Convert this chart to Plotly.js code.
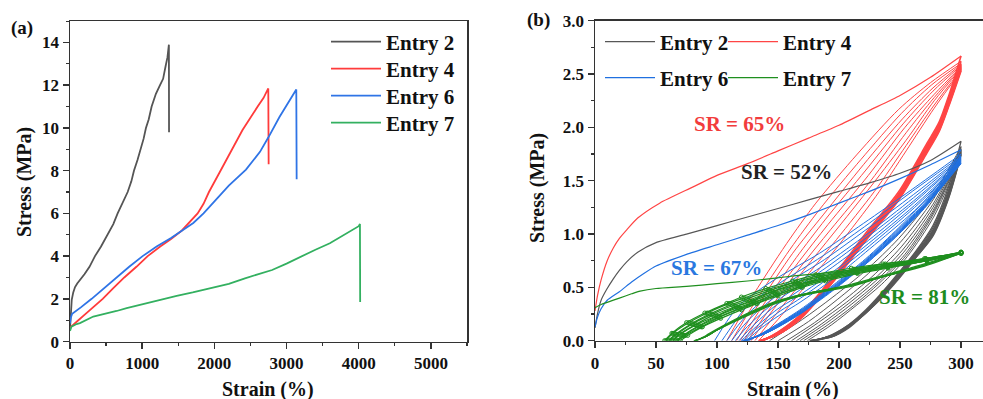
<!DOCTYPE html>
<html><head><meta charset="utf-8">
<script src="https://cdn.plot.ly/plotly-3.0.1.min.js"></script>
<style>html,body{margin:0;padding:0;background:#fff}#chart{width:983px;height:399px}</style>
</head><body><div id="chart"></div>
<script>
// ---------- Panel (a): tensile curves ----------
const entryNames = ['Entry 2', 'Entry 4', 'Entry 6', 'Entry 7'];
const a2x = [0,5,12,24,45,70,100,138,200,270,346,430,522,600,660,730,799,850,886,935,983,1020,1052,1090,1131,1190,1247,1290,1325,1350,1370,1372];
const a2y = [0.6,1.0,1.5,1.95,2.3,2.55,2.72,2.88,3.15,3.5,4.0,4.45,5.0,5.5,6.0,6.5,7.0,7.5,8.0,8.5,9.0,9.5,10.0,10.4,11.0,11.6,12.0,12.3,12.9,13.3,13.9,9.8];
const a4x = [0,30,100,200,300,453,600,752,920,1076,1250,1400,1550,1680,1768,1850,1925,2070,2230,2390,2600,2680,2747,2752];
const a4y = [0.65,0.75,0.95,1.25,1.55,2.0,2.5,3.0,3.5,4.0,4.45,4.8,5.2,5.65,6.0,6.45,7.0,7.9,8.9,9.9,11.0,11.4,11.85,8.3];
const a6x = [0,10,30,80,150,300,470,637,820,1006,1200,1400,1550,1708,1850,2032,2200,2438,2632,2747,2900,3135,3140];
const a6y = [0.85,1.1,1.3,1.42,1.6,2.0,2.5,3.0,3.5,4.0,4.45,4.85,5.2,5.55,6.0,6.7,7.3,8.05,8.88,9.55,10.5,11.8,7.6];
const a7x = [0,20,92,138,323,500,646,785,1000,1200,1478,1700,2000,2200,2424,2600,2800,3000,3200,3400,3600,3800,4000,4017,4020];
const a7y = [0.5,0.7,0.82,0.86,1.17,1.3,1.43,1.56,1.75,1.92,2.14,2.3,2.55,2.7,2.96,3.15,3.35,3.65,3.98,4.3,4.6,5.0,5.4,5.5,1.85];

// ---------- Panel (b): cyclic loading ----------
// first loading curves
const b2x = [0,2,5,9.5,15,20,26,35,50,75,100,125,150,175,200,225,250,275,300];
const b2y = [0.12,0.25,0.38,0.48,0.58,0.66,0.74,0.83,0.92,1.0,1.08,1.16,1.24,1.32,1.4,1.48,1.57,1.69,1.87];
const b4x = [0,2,5,10,15,20,26,35,53,80,100,125,150,175,200,225,250,275,300];
const b4y = [0.28,0.42,0.57,0.75,0.87,0.96,1.04,1.15,1.29,1.44,1.55,1.66,1.78,1.9,2.02,2.16,2.3,2.47,2.67];
const b6x = [0,2,5,10,20,30,40,50,75,100,125,150,175,200,225,250,275,300];
const b6y = [0.13,0.22,0.3,0.38,0.46,0.55,0.63,0.7,0.81,0.9,0.99,1.08,1.18,1.29,1.4,1.52,1.65,1.79];
const b7x = [0,5,10,20,30,37,50,75,100,125,146,165,184,200,225,250,275,300];
const b7y = [0.31,0.34,0.36,0.4,0.44,0.465,0.49,0.51,0.535,0.56,0.585,0.61,0.63,0.65,0.68,0.72,0.77,0.82];

// Entry 2 reloading / unloading branches
const e2LoadX = [
 [143,170,195,222,249,277,300],[150,175,199,224,250,277,300],[157,180,203,227,251,277,300],
 [161,183,206,229,252,277,300],[165,186,208,230,253,277,300],[168,189,210,232,254,277,300],
 [171,191,212,233,255,277,300],[174,194,214,235,256,278,300]];
const e2LoadY = [
 [0,0.2,0.41,0.66,0.96,1.36,1.82],[0,0.18,0.39,0.63,0.92,1.32,1.80],[0,0.17,0.37,0.6,0.88,1.28,1.79],
 [0,0.17,0.36,0.58,0.85,1.25,1.78],[0,0.16,0.35,0.56,0.83,1.22,1.77],[0,0.16,0.34,0.55,0.81,1.2,1.76],
 [0,0.15,0.33,0.54,0.8,1.18,1.75],[0,0.15,0.33,0.53,0.79,1.17,1.74]];
const e2UnX = [
 [300,290,277,263,249,235,222,208,195,182],[300,290,277,263,249,235,222,208,195,180],
 [300,290,277,263,249,235,222,208,195,179],[300,290,277,263,249,235,222,208,195,178],
 [300,290,277,263,249,235,222,208,195,178],[300,290,277,263,249,235,222,208,195,177],
 [300,290,277,263,249,235,222,208,195,177],[300,290,277,263,249,235,222,208,195,176],
 [300,290,277,263,249,235,222,208,195,176]];
const e2UnY = [
 [1.87,1.45,1.08,0.84,0.64,0.45,0.29,0.15,0.06,0],[1.82,1.42,1.06,0.83,0.63,0.44,0.28,0.15,0.06,0],
 [1.80,1.4,1.04,0.82,0.62,0.43,0.28,0.14,0.05,0],[1.79,1.39,1.03,0.81,0.61,0.43,0.27,0.14,0.05,0],
 [1.78,1.38,1.02,0.8,0.6,0.42,0.27,0.14,0.05,0],[1.77,1.37,1.01,0.8,0.6,0.42,0.27,0.13,0.05,0],
 [1.76,1.36,1.0,0.79,0.59,0.41,0.26,0.13,0.04,0],[1.75,1.35,0.99,0.78,0.59,0.41,0.26,0.13,0.04,0],
 [1.74,1.34,0.98,0.78,0.58,0.4,0.26,0.12,0.04,0]];

// Entry 4
const e4LoadX = [
 [108,127,157,181,215,249,275,300],[112,131,160,184,218,251,276,300],[116,134,162,187,220,252,277,300],
 [119,137,165,189,222,253,277,300],[122,139,167,191,224,254,278,300],[125,142,169,193,226,255,278,300],
 [128,144,171,195,227,255,278,300],[131,147,173,198,229,255,278,300],[134,150,175,200,230,255,278,300]];
const e4LoadY = [
 [0,0.38,0.91,1.29,1.75,2.17,2.42,2.62],[0,0.36,0.86,1.23,1.7,2.13,2.4,2.6],[0,0.34,0.82,1.18,1.65,2.08,2.37,2.59],
 [0,0.32,0.78,1.14,1.6,2.04,2.34,2.58],[0,0.3,0.74,1.09,1.55,2.0,2.31,2.57],[0,0.28,0.7,1.04,1.5,1.95,2.28,2.56],
 [0,0.26,0.66,1.0,1.46,1.88,2.25,2.55],[0,0.23,0.6,0.95,1.4,1.83,2.21,2.54],[0,0.2,0.55,0.9,1.35,1.78,2.18,2.53]];
const e4UnX = [
 [300,290,282,272,249,222,195,168,150,138],[300,290,282,272,249,222,195,168,150,137],
 [300,290,282,272,249,222,195,168,150,137],[300,290,282,272,249,222,195,168,150,136],
 [300,290,282,272,249,222,195,168,150,136],[300,290,282,272,249,222,195,168,150,136],
 [300,290,282,272,249,222,195,168,150,135],[300,290,282,272,249,222,195,168,150,135],
 [300,290,282,272,249,222,195,168,150,135],[300,290,282,272,249,222,195,168,150,134]];
const e4UnY = [
 [2.67,2.3,2.05,1.85,1.4,1.01,0.6,0.24,0.08,0],[2.62,2.28,2.03,1.83,1.38,0.99,0.59,0.23,0.08,0],
 [2.60,2.27,2.02,1.82,1.37,0.98,0.58,0.23,0.07,0],[2.59,2.26,2.01,1.81,1.36,0.97,0.58,0.22,0.07,0],
 [2.58,2.25,2.0,1.8,1.35,0.97,0.57,0.22,0.07,0],[2.57,2.24,2.0,1.8,1.35,0.96,0.57,0.22,0.07,0],
 [2.56,2.23,1.99,1.79,1.34,0.96,0.56,0.21,0.06,0],[2.55,2.22,1.98,1.78,1.33,0.95,0.56,0.21,0.06,0],
 [2.54,2.21,1.97,1.77,1.33,0.95,0.55,0.21,0.06,0],[2.53,2.2,1.96,1.76,1.32,0.94,0.55,0.2,0.06,0]];

// Entry 6
const e6LoadX = [
 [98,108,118,135,151,184,220,260,300],[104,113,122,138,154,186,221,260,300],[108,117,126,141,156,188,222,261,300],
 [112,120,129,143,158,189,223,261,300],[115,123,132,146,160,190,223,261,300],[118,126,135,148,162,191,224,261,300],
 [120,128,137,150,164,192,224,262,300],[122,130,139,152,166,193,225,262,300],[124,132,141,154,168,194,225,262,300]];
const e6LoadY = [
 [0,0.18,0.33,0.48,0.6,0.82,1.1,1.42,1.75],[0,0.15,0.29,0.44,0.56,0.79,1.07,1.4,1.73],[0,0.14,0.26,0.41,0.53,0.76,1.04,1.37,1.72],
 [0,0.12,0.23,0.37,0.49,0.72,1.0,1.34,1.71],[0,0.11,0.21,0.35,0.46,0.69,0.97,1.31,1.70],[0,0.1,0.2,0.33,0.43,0.66,0.94,1.29,1.69],
 [0,0.09,0.18,0.3,0.4,0.62,0.91,1.27,1.68],[0,0.09,0.17,0.28,0.38,0.6,0.89,1.25,1.67],[0,0.08,0.16,0.26,0.36,0.57,0.86,1.22,1.66]];
const e6UnX = [
 [300,285,270,249,222,195,168,140,126],[300,285,270,249,222,195,168,140,125],
 [300,285,270,249,222,195,168,140,124],[300,285,270,249,222,195,168,140,124],
 [300,285,270,249,222,195,168,140,123],[300,285,270,249,222,195,168,140,123],
 [300,285,270,249,222,195,168,140,122],[300,285,270,249,222,195,168,140,122],
 [300,285,270,249,222,195,168,140,121],[300,285,270,249,222,195,168,140,120]];
const e6UnY = [
 [1.79,1.52,1.31,1.06,0.77,0.52,0.29,0.09,0],[1.75,1.5,1.29,1.05,0.76,0.51,0.28,0.09,0],
 [1.73,1.49,1.28,1.04,0.75,0.5,0.28,0.08,0],[1.72,1.48,1.27,1.03,0.75,0.5,0.27,0.08,0],
 [1.71,1.47,1.27,1.02,0.74,0.49,0.27,0.08,0],[1.70,1.47,1.26,1.02,0.74,0.49,0.26,0.08,0],
 [1.69,1.46,1.26,1.01,0.73,0.48,0.26,0.07,0],[1.68,1.46,1.25,1.01,0.73,0.48,0.26,0.07,0],
 [1.67,1.45,1.25,1.0,0.72,0.48,0.25,0.07,0],[1.66,1.45,1.24,1.0,0.72,0.47,0.25,0.07,0]];

// Entry 7
const e7LoadX = [
 [57,63,75,90,108,120,140,162,181,210,236,270,300],[58,64,77,92,110,122,142,164,183,212,238,271,300],
 [60,66,79,94,112,124,143,165,184,213,238,271,300],[61,67,80,96,113,126,145,166,185,213,239,271,300],
 [63,69,82,97,115,127,146,167,186,214,239,272,300],[64,70,83,99,116,129,147,168,187,214,239,272,300],
 [66,72,85,100,117,130,148,168,187,214,240,272,300],[67,73,86,101,118,131,149,169,188,215,240,272,300],
 [68,74,87,102,119,132,149,169,188,215,240,272,300],[70,76,88,103,120,133,150,170,189,215,240,272,300]];
const e7LoadY = [
 [0,0.07,0.17,0.26,0.35,0.41,0.49,0.56,0.62,0.68,0.72,0.77,0.83],[0,0.07,0.17,0.26,0.35,0.4,0.48,0.55,0.61,0.67,0.72,0.77,0.83],
 [0,0.06,0.16,0.25,0.34,0.39,0.47,0.55,0.6,0.67,0.71,0.77,0.83],[0,0.06,0.16,0.25,0.33,0.38,0.46,0.54,0.6,0.66,0.71,0.76,0.83],
 [0,0.06,0.15,0.24,0.32,0.37,0.46,0.53,0.59,0.66,0.7,0.76,0.82],[0,0.06,0.15,0.23,0.32,0.37,0.45,0.53,0.58,0.65,0.7,0.76,0.82],
 [0,0.05,0.14,0.23,0.31,0.36,0.44,0.52,0.58,0.65,0.69,0.75,0.82],[0,0.05,0.14,0.22,0.3,0.36,0.43,0.51,0.57,0.64,0.69,0.75,0.82],
 [0,0.05,0.13,0.22,0.3,0.35,0.43,0.51,0.57,0.64,0.69,0.75,0.82],[0,0.05,0.13,0.21,0.29,0.35,0.42,0.5,0.56,0.63,0.68,0.75,0.82]];
const e7UnX = [
 [300,270,236,210,181,168,146,120,100,91,83],[300,270,236,210,181,168,146,120,100,91,82],
 [300,270,236,210,181,168,146,120,100,91,82],[300,270,236,210,181,168,146,120,100,91,81],
 [300,270,236,210,181,168,146,120,100,91,81]];
const e7UnY = [
 [0.83,0.72,0.61,0.53,0.46,0.43,0.36,0.23,0.11,0.05,0],[0.83,0.71,0.6,0.52,0.46,0.43,0.35,0.22,0.1,0.04,0],
 [0.82,0.71,0.6,0.52,0.46,0.42,0.35,0.22,0.1,0.04,0],[0.82,0.71,0.6,0.52,0.45,0.42,0.35,0.22,0.1,0.04,0],
 [0.82,0.7,0.6,0.51,0.45,0.42,0.34,0.21,0.1,0.04,0]];

const srLabels = ['SR = 52%', 'SR = 65%', 'SR = 67%', 'SR = 81%'];
const srX = [157, 118.5, 99.7, 270];
const srY = [1.58, 2.03, 0.68, 0.41];

// ---------- styles ----------
const F = 'Liberation Serif, Times New Roman, serif';
const colA = ['#555555', '#ff3b3b', '#2f74e6', '#33b060'];
const colB = ['#575757', '#ff4545', '#2070e0', '#1f8f1f'];
const srCol = ['#222222', '#f23c3c', '#2a78e0', '#1e8c1e'];

const traces = [];
const aX = [a2x, a4x, a6x, a7x], aY = [a2y, a4y, a6y, a7y];
const legA = ['legend', 'legend2', 'legend3', 'legend4'];
for (let i = 0; i < 4; i++) {
  traces.push({x: aX[i], y: aY[i], type: 'scatter', mode: 'lines', name: entryNames[i],
    line: {color: colA[i], width: 1.8}, xaxis: 'x', yaxis: 'y', legend: legA[i]});
}
const bX = [b2x, b4x, b6x, b7x], bY = [b2y, b4y, b6y, b7y];
const loadX = [e2LoadX, e4LoadX, e6LoadX, e7LoadX], loadY = [e2LoadY, e4LoadY, e6LoadY, e7LoadY];
const unX = [e2UnX, e4UnX, e6UnX, e7UnX], unY = [e2UnY, e4UnY, e6UnY, e7UnY];
const legB = ['legend5', 'legend6', 'legend7', 'legend8'];
for (let i = 0; i < 4; i++) {
  const isGreen = i === 3;
  const lw = isGreen ? 1.2 : 1;
  for (let c = 0; c < unX[i].length; c++) {
    traces.push({x: unX[i][c], y: unY[i][c], type: 'scatter', mode: 'lines', showlegend: false,
      line: {color: colB[i], width: i === 1 ? 1.6 : (i === 0 ? 1.3 : lw), shape: 'spline', smoothing: 0.8},
      xaxis: 'x2', yaxis: 'y2', hoverinfo: 'skip'});
  }
  for (let c = 0; c < loadX[i].length; c++) {
    traces.push({x: loadX[i][c], y: loadY[i][c], type: 'scatter', mode: isGreen ? 'lines+markers' : 'lines', showlegend: false,
      line: {color: colB[i], width: lw, shape: 'spline', smoothing: 0.8},
      marker: {symbol: 'circle-open', size: 4, color: colB[i], line: {width: 1}},
      xaxis: 'x2', yaxis: 'y2', hoverinfo: 'skip'});
  }
}
for (let i = 0; i < 4; i++) {
  traces.push({x: bX[i], y: bY[i], type: 'scatter', mode: 'lines', name: entryNames[i],
    line: {color: colB[i], width: 1.2, shape: 'spline', smoothing: 0.6},
    xaxis: 'x2', yaxis: 'y2', legend: legB[i]});
}

const tickFont = {family: F, size: 17, color: '#111', weight: 'bold'};
const titleFont = {family: F, size: 20, color: '#111', weight: 'bold'};
function ax(extra) {
  return Object.assign({showgrid: false, zeroline: false, showline: true, linecolor: '#333', linewidth: 1.5,
    mirror: true, ticks: 'outside', ticklen: 6, tickwidth: 1.5, tickcolor: '#333', tickfont: tickFont,
    fixedrange: true}, extra);
}
const legFont = {family: F, size: 21, color: '#111', weight: 'bold'};
function leg(px, topPx) {
  return {x: px/983, y: 1 - topPx/399, xanchor: 'left', yanchor: 'top', font: legFont,
    bgcolor: 'rgba(0,0,0,0)', itemwidth: 50, tracegroupgap: 0};
}
function note(text, px, py, size, angle) {
  return {text: text, xref: 'paper', yref: 'paper', x: px/983, y: 1 - py/399, xanchor: 'center', yanchor: 'middle',
    showarrow: false, textangle: angle || 0, font: {family: F, size: size, color: '#111', weight: 'bold'}};
}

const layout = {
  width: 983, height: 399, margin: {l: 0, r: 0, t: 0, b: 0},
  paper_bgcolor: '#fff', plot_bgcolor: '#fff', showlegend: true,
  xaxis: ax({domain: [70/983, 467/983], range: [0, 5500], dtick: 1000, anchor: 'y',
    minor: {dtick: 500, ticks: 'outside', ticklen: 3, tickwidth: 1.2, tickcolor: '#333'}}),
  yaxis: ax({domain: [0.144, 0.947], range: [0, 15], dtick: 2, anchor: 'x',
    minor: {dtick: 1, ticks: 'outside', ticklen: 3, tickwidth: 1.2, tickcolor: '#333'}}),
  xaxis2: ax({domain: [595/983, 1], range: [0, 318], dtick: 50, anchor: 'y2',
    minor: {dtick: 25, ticks: 'outside', ticklen: 3, tickwidth: 1.2, tickcolor: '#333'}}),
  yaxis2: ax({domain: [0.146, 0.948], range: [0, 3], dtick: 0.5, tickformat: '.1f', anchor: 'x2',
    minor: {dtick: 0.25, ticks: 'outside', ticklen: 3, tickwidth: 1.2, tickcolor: '#333'}}),
  legend: leg(326, 21.5), legend2: leg(326, 48.5), legend3: leg(326, 75.5), legend4: leg(326, 102.5),
  legend5: leg(600, 21.5), legend6: leg(723, 21.5), legend7: leg(600, 57.5), legend8: leg(723, 57.5),
  annotations: [
    note('(a)', 22, 28, 19), note('(b)', 538, 20, 19),
    note('Strain (%)', 268, 389, 20), note('Strain (%)', 793, 389, 20),
    note('Stress (MPa)', 24, 182, 20, -90), note('Stress (MPa)', 537, 188, 20, -90)
  ]
};
for (let i = 0; i < 4; i++) {
  layout.annotations.push({text: srLabels[i], xref: 'x2', yref: 'y2', x: srX[i], y: srY[i], showarrow: false,
    xanchor: 'center', yanchor: 'middle', font: {family: F, size: 21, color: srCol[i], weight: 'bold'}});
}
Plotly.newPlot('chart', traces, layout, {staticPlot: true, displayModeBar: false});
</script></body></html>
